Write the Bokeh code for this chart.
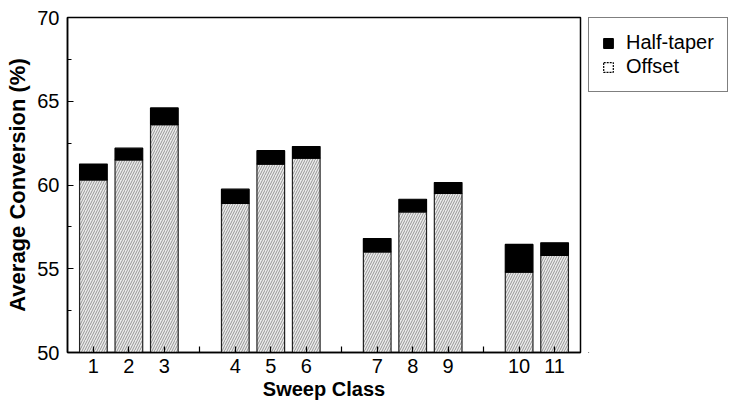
from bokeh.plotting import figure
from bokeh.models import ColumnDataSource, Legend, LegendItem, Range1d, FixedTicker
from bokeh.layouts import row
from bokeh.embed import file_html
from bokeh.resources import INLINE

# ---- data ----
sweep_class = ["1", "2", "3", "4", "5", "6", "7", "8", "9", "10", "11"]
group_sizes = [3, 3, 3, 2]
offset = [60.3, 61.5, 63.6, 58.9, 61.25, 61.6, 56.0, 58.4, 59.5, 54.8, 55.8]
half_taper = [61.25, 62.2, 64.6, 59.75, 62.05, 62.3, 56.8, 59.15, 60.15, 56.45, 56.55]
y_ticks = [50, 55, 60, 65, 70]
series_names = ["Half-taper", "Offset"]

# positions: groups separated by one empty slot
xs = []
gap_ticks = []
pos = 1
for gi, n in enumerate(group_sizes):
    for _ in range(n):
        xs.append(pos)
        pos += 1
    if gi < len(group_sizes) - 1:
        gap_ticks.append(pos)
        pos += 1

y0 = y_ticks[0]
src = ColumnDataSource(dict(x=xs, offset=offset, half=half_taper,
                            base=[y0] * len(xs), label=sweep_class))

FONT = "Liberation Sans"
OFF_STYLE = dict(fill_color="#ececec", line_color="#222222", line_width=1.2,
                 hatch_pattern="/", hatch_color="#959595", hatch_scale=5,
                 hatch_weight=1)
HALF_STYLE = dict(fill_color="black", line_color="black", line_width=1.2)

p = figure(width=588, height=409, output_backend="svg", toolbar_location=None,
           x_range=Range1d(0.27, pos - 1 + 0.73), y_range=Range1d(y0, y_ticks[-1]),
           min_border_left=67, min_border_right=8, min_border_top=17,
           min_border_bottom=57)
p.outline_line_color = "black"
p.outline_line_width = 1.5
p.xgrid.visible = False
p.ygrid.visible = False

p.vbar(x="x", bottom="base", top="offset", width=0.78, source=src, **OFF_STYLE)
p.vbar(x="x", bottom="offset", top="half", width=0.78, source=src, **HALF_STYLE)

# x axis
p.xaxis.ticker = FixedTicker(ticks=sorted(xs + gap_ticks))
overrides = {x: lab for x, lab in zip(xs, sweep_class)}
overrides.update({g: "" for g in gap_ticks})
p.xaxis.major_label_overrides = overrides
p.xaxis.axis_label = "Sweep Class"

# y axis
p.yaxis.ticker = FixedTicker(ticks=y_ticks,
                             minor_ticks=[y_ticks[0] + 2.5 * i for i in range(9)])
p.yaxis.axis_label = "Average Conversion (%)"

for ax in (p.xaxis[0], p.yaxis[0]):
    ax.axis_line_color = "black"
    ax.axis_line_width = 1.5
    ax.major_tick_in = 6
    ax.major_tick_out = 0
    ax.minor_tick_in = 4
    ax.minor_tick_out = 0
    ax.major_tick_line_color = "black"
    ax.major_tick_line_width = 1.2
    ax.minor_tick_line_color = "black"
    ax.major_label_text_font = FONT
    ax.major_label_text_font_size = "20px"
    ax.major_label_text_color = "black"
    ax.axis_label_text_font = FONT
    ax.axis_label_text_font_style = "bold"
    ax.axis_label_text_color = "black"
p.xaxis.axis_label_text_font_size = "20px"
p.yaxis.axis_label_text_font_size = "22px"
p.xaxis.major_label_standoff = 6
p.xaxis.axis_label_standoff = 2
p.yaxis.major_label_standoff = 8
p.yaxis.axis_label_standoff = 4
p.xaxis.minor_tick_in = 0

# legend figure to the right
lf = figure(width=143, height=409, output_backend="svg", toolbar_location=None,
            x_axis_type=None, y_axis_type=None, min_border_left=0,
            min_border_right=0, min_border_top=17, min_border_bottom=0,
            x_range=Range1d(0, 1), y_range=Range1d(0, 1))
lf.outline_line_color = None
lf.xgrid.visible = False
lf.ygrid.visible = False
# swatch-only renderers, placed outside the visible range
swatch = ColumnDataSource(dict(x=[-5.0], top=[-5.0], bottom=[-6.0]))
lr_half = lf.vbar(x="x", top="top", bottom="bottom", width=0.5, source=swatch,
                  **HALF_STYLE)
lr_off = lf.vbar(x="x", top="top", bottom="bottom", width=0.5, source=swatch,
                 fill_color="white", line_color="black", line_width=1.2,
                 line_dash="2 1")

legend = Legend(items=[LegendItem(label=series_names[0], renderers=[lr_half]),
                       LegendItem(label=series_names[1], renderers=[lr_off])],
                location="top_left")
legend.label_text_font = FONT
legend.label_text_font_size = "20px"
legend.label_text_color = "black"
legend.border_line_color = "black"
legend.border_line_width = 1.2
legend.glyph_width = 12
legend.glyph_height = 12
legend.label_standoff = 12
legend.spacing = 1
legend.padding = 13
legend.margin = 0
legend.label_height = 20
legend.background_fill_color = "white"
lf.add_layout(legend, "center")

layout = row(p, lf)
open("out.html", "w").write(file_html(layout, INLINE))
